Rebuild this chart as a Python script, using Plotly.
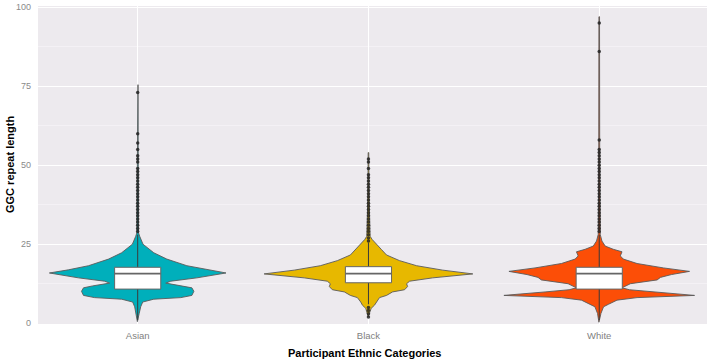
import plotly.graph_objects as go

# ---------------- data ----------------
categories = ["Asian", "Black", "White"]
colors = ["#00AFBB", "#E7B800", "#FC4E07"]

# violin outline: y values and relative half-width (density, arbitrary units)
asian_y = [0.5, 3.1, 5.2, 6.7, 7.6, 8.1, 8.8, 10.1, 11.2, 11.8, 12.7, 13.3, 14.35, 15.9, 16.9, 18.2, 20.3, 22.3, 25.0, 27.5, 28.6, 40, 55, 75.5]
asian_d = [0.3, 1.5, 3, 5, 16, 43, 54, 56, 54, 45, 28, 33, 59, 88, 69, 49, 29, 16, 5.3, 2, 0.8, 0.6, 0.5, 0.3]

black_y = [2.0, 3.1, 4.7, 5.7, 6.7, 8.1, 8.8, 9.9, 10.6, 11.6, 12.5, 13.3, 14.35, 15.6, 16.8, 18.2, 19.8, 21.6, 23.4, 25.0, 26.5, 27.5, 40, 54]
black_d = [0.3, 1, 2.7, 6, 7.7, 11, 18, 24, 36, 39, 38, 41, 64, 104, 74, 48, 31, 18, 12.7, 7.7, 3.7, 1.7, 0.6, 0.3]

white_y = [0.3, 3.1, 5.2, 6.0, 7.3, 8.1, 8.8, 9.9, 10.6, 11.2, 12.5, 13.7, 14.5, 15.4, 16.4, 17.5, 18.9, 20.3, 21.3, 22.6, 23.4, 24.4, 26.0, 28.1, 50, 97]
white_d = [0.3, 1.7, 4.3, 9.3, 17.7, 37.7, 95, 54, 30, 22.7, 31, 57.7, 61, 72, 90, 64, 37.7, 24, 21, 22.7, 14, 6, 2.7, 1, 0.5, 0.3]

# box statistics
q1 = [10.8, 12.8, 10.8]
median = [15.7, 15.7, 15.7]
q3 = [17.7, 17.9, 17.7]
lowerfence = [1, 6, 1]
upperfence = [28, 25.5, 28]

# outliers
asian_out = list(range(29, 50)) + [51, 52, 53, 55, 57, 60, 73]
black_out = [2, 3, 4, 5] + list(range(26, 48)) + [49, 51, 52]
white_out = list(range(29, 56)) + [58, 86, 95]

tick_vals_y = [0, 25, 50, 75, 100]

# ---------------- figure ----------------
violin_y = [asian_y, black_y, white_y]
violin_d = [asian_d, black_d, white_d]
outliers = [asian_out, black_out, white_out]
DENS_SCALE = 230.0  # density units -> category units
BOX_HALF = 0.1

fig = go.Figure()
for i, cat in enumerate(categories):
    ys = violin_y[i]
    ds = [d / DENS_SCALE for d in violin_d[i]]
    xs = [i - d for d in ds] + [i + d for d in reversed(ds)]
    yy = list(ys) + list(reversed(ys))
    xs.append(xs[0]); yy.append(yy[0])
    fig.add_trace(go.Scatter(x=xs, y=yy, mode="lines", fill="toself",
                             fillcolor=colors[i],
                             line=dict(color="#5a5a5a", width=0.9),
                             hoverinfo="skip", showlegend=False))

for i, cat in enumerate(categories):
    # whiskers
    fig.add_trace(go.Scatter(x=[i, i, None, i, i],
                             y=[lowerfence[i], q1[i], None, q3[i], upperfence[i]],
                             mode="lines", line=dict(color="#3a3a3a", width=1),
                             hoverinfo="skip", showlegend=False))
    # box
    fig.add_trace(go.Scatter(x=[i - BOX_HALF, i + BOX_HALF, i + BOX_HALF, i - BOX_HALF, i - BOX_HALF],
                             y=[q1[i], q1[i], q3[i], q3[i], q1[i]],
                             mode="lines", fill="toself", fillcolor="white",
                             line=dict(color="#666666", width=1),
                             hoverinfo="skip", showlegend=False))
    # median
    fig.add_trace(go.Scatter(x=[i - BOX_HALF, i + BOX_HALF], y=[median[i], median[i]],
                             mode="lines", line=dict(color="#666666", width=1.8),
                             hoverinfo="skip", showlegend=False))
    # outliers
    fig.add_trace(go.Scatter(x=[i] * len(outliers[i]), y=outliers[i], mode="markers",
                             marker=dict(color="rgba(35,35,35,0.85)", size=3.5),
                             hoverinfo="skip", showlegend=False))

fig.update_layout(
    width=709, height=361,
    margin=dict(l=38, r=2, t=2, b=37),
    paper_bgcolor="white",
    plot_bgcolor="#EDEAEE",
    showlegend=False,
    hovermode=False,
    font=dict(family="Liberation Sans, Arial, sans-serif"),
    xaxis=dict(range=[-0.432, 2.467], tickvals=[0, 1, 2], ticktext=categories,
               showgrid=True, gridcolor="white", gridwidth=1.2, zeroline=False,
               ticks="", tickfont=dict(size=9.5, color="#7f7f7f"),
               ticklabelstandoff=4, showline=False),
    yaxis=dict(range=[-0.25, 100.4], tickvals=tick_vals_y,
               showgrid=True, gridcolor="white", gridwidth=1.2, zeroline=False,
               ticks="", tickfont=dict(size=9, color="#8a8a8a"),
               ticklabelstandoff=6, showline=False, ticklabeloverflow="allow",
               minor=dict(dtick=12.5, tick0=0, showgrid=True, gridcolor="#F5F3F6", gridwidth=0.8)),
    annotations=[
        dict(text="<b>GGC repeat length</b>", xref="paper", yref="paper",
             x=-28 / 669, y=0.5, xanchor="center", yanchor="middle", textangle=-90,
             showarrow=False, font=dict(size=11, color="black")),
        dict(text="<b>Participant Ethnic Categories</b>", xref="paper", yref="paper",
             x=(364 - 38) / 669, y=-29 / 322, xanchor="center", yanchor="middle",
             showarrow=False, font=dict(size=11, color="black")),
    ],
)

fig.write_html("out.html", config={"displayModeBar": False, "staticPlot": True},
               post_script="document.body.style.margin='0';document.body.style.overflow='hidden';")
